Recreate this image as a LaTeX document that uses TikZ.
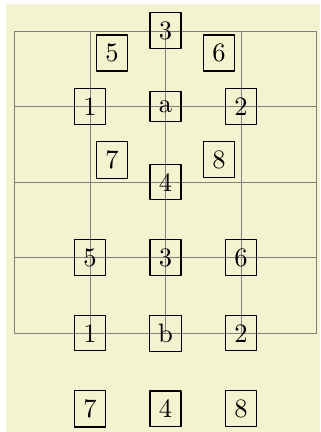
\documentclass[tikz,border=0pt]{standalone}
\definecolor{bgyellow}{RGB}{243,243,207}
\tikzset{box/.style={draw, rectangle}}
\begin{document}
\begin{tikzpicture}[line join=round]
				\useasboundingbox (-0.189,-1.306) rectangle (4.044,4.408);
				\fill[bgyellow] (-0.116,-1.306) rectangle (4.044,4.355);
				\draw[help lines] (0,0) grid (4,4);
				\node[box] (a) at (2,3) {a};
				\node[box] (b) at (2,0) {b};
				\foreach \n/\ang in {1/180,2/0,3/90,4/-90,5/135,6/45,7/-135,8/-45}
				\path (a) ++(\ang:1) node[box] (a\n) {\n};
				\foreach \n/\dx/\dy in {1/-1/0,2/1/0,3/0/1,4/0/-1,5/-1/1,6/1/1,7/-1/-1,8/1/-1}
				\path (b) ++(\dx,\dy) node[box] (b\n) {\n};
			\end{tikzpicture}
\end{document}
